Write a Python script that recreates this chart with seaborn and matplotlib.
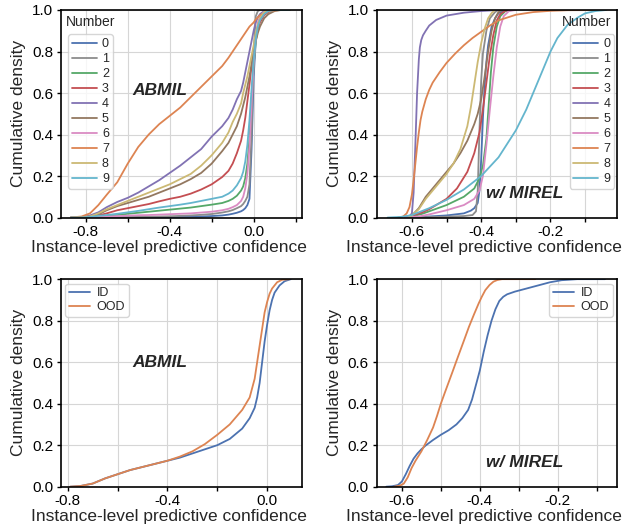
import numpy as np
import pandas as pd
import matplotlib.pyplot as plt
import seaborn as sns

# ---- top-left: ABMIL, one cumulative curve per digit (common x grid) ----
abmil_x = [-0.87, -0.82, -0.78, -0.74, -0.70, -0.65, -0.60, -0.55, -0.50, -0.45, -0.40, -0.35,
           -0.30, -0.25, -0.20, -0.15, -0.12, -0.10, -0.08, -0.06, -0.05, -0.04, -0.03, -0.02,
           -0.01, 0.00, 0.01, 0.02, 0.03, 0.05, 0.07, 0.10, 0.13, 0.17]
abmil_0 = [0, 0, 0, 0.001, 0.001, 0.001, 0.001, 0.001, 0.002, 0.002, 0.002, 0.003, 0.004, 0.005, 0.007, 0.01, 0.014,
           0.018, 0.023, 0.03, 0.036, 0.045, 0.06, 0.09, 0.33, 0.68, 0.85, 0.92, 0.96, 0.99, 0.997, 1, 1, 1]
abmil_1 = [0, 0, 0, 0, 0, 0.001, 0.002, 0.003, 0.004, 0.005, 0.006, 0.008, 0.01, 0.013, 0.017, 0.024, 0.03, 0.036,
           0.045, 0.055, 0.065, 0.08, 0.10, 0.16, 0.40, 0.80, 0.97, 0.995, 1, 1, 1, 1, 1, 1]
abmil_2 = [0, 0, 0.002, 0.005, 0.008, 0.012, 0.018, 0.023, 0.028, 0.033, 0.038, 0.043, 0.048, 0.055, 0.062, 0.07,
           0.08, 0.09, 0.105, 0.13, 0.15, 0.19, 0.26, 0.38, 0.56, 0.73, 0.85, 0.92, 0.955, 0.985, 0.995, 1, 1, 1]
abmil_3 = [0, 0, 0.003, 0.01, 0.02, 0.035, 0.045, 0.055, 0.065, 0.078, 0.09, 0.10, 0.115, 0.135, 0.16, 0.195, 0.225,
           0.26, 0.31, 0.37, 0.42, 0.48, 0.56, 0.64, 0.73, 0.81, 0.87, 0.91, 0.94, 0.975, 0.99, 1, 1, 1]
abmil_4 = [0, 0, 0.01, 0.025, 0.05, 0.075, 0.095, 0.12, 0.15, 0.18, 0.215, 0.25, 0.29, 0.33, 0.39, 0.44, 0.48, 0.52,
           0.57, 0.61, 0.65, 0.70, 0.75, 0.80, 0.85, 0.90, 0.94, 0.965, 0.98, 0.995, 1, 1, 1, 1]
abmil_5 = [0, 0, 0.005, 0.015, 0.035, 0.055, 0.07, 0.085, 0.10, 0.12, 0.14, 0.16, 0.185, 0.215, 0.26, 0.32, 0.36,
           0.40, 0.44, 0.50, 0.54, 0.58, 0.63, 0.68, 0.74, 0.80, 0.85, 0.89, 0.92, 0.96, 0.98, 0.995, 1, 1]
abmil_6 = [0, 0, 0.001, 0.003, 0.005, 0.007, 0.009, 0.011, 0.012, 0.014, 0.016, 0.018, 0.02, 0.024, 0.028, 0.035,
           0.042, 0.05, 0.06, 0.08, 0.10, 0.14, 0.21, 0.34, 0.54, 0.74, 0.87, 0.94, 0.97, 0.99, 1, 1, 1, 1]
abmil_7 = [0, 0.005, 0.02, 0.06, 0.11, 0.17, 0.26, 0.34, 0.40, 0.45, 0.49, 0.53, 0.58, 0.63, 0.68, 0.73, 0.77, 0.80,
           0.83, 0.86, 0.875, 0.89, 0.905, 0.92, 0.93, 0.94, 0.955, 0.965, 0.975, 0.985, 0.993, 0.998, 1, 1]
abmil_8 = [0, 0, 0.005, 0.02, 0.04, 0.06, 0.08, 0.10, 0.12, 0.14, 0.16, 0.185, 0.21, 0.25, 0.30, 0.36, 0.41, 0.46,
           0.50, 0.55, 0.60, 0.64, 0.68, 0.73, 0.78, 0.83, 0.89, 0.93, 0.96, 0.99, 1, 1, 1, 1]
abmil_9 = [0, 0, 0.003, 0.008, 0.012, 0.018, 0.025, 0.032, 0.04, 0.048, 0.055, 0.062, 0.07, 0.08, 0.09, 0.10, 0.115,
           0.13, 0.155, 0.19, 0.22, 0.27, 0.35, 0.47, 0.62, 0.76, 0.86, 0.92, 0.95, 0.98, 0.995, 1, 1, 1]

# ---- top-right: w/ MIREL, (x, cdf) pairs per digit ----
mirel_0 = [(-0.62, 0), (-0.55, 0.005), (-0.5, 0.01), (-0.45, 0.02), (-0.43, 0.033), (-0.42, 0.045), (-0.41, 0.07),
           (-0.405, 0.13), (-0.4, 0.28), (-0.395, 0.48), (-0.39, 0.64), (-0.385, 0.75), (-0.38, 0.83), (-0.37, 0.92),
           (-0.36, 0.96), (-0.35, 0.985), (-0.33, 0.998), (-0.3, 1)]
mirel_1 = [(-0.62, 0), (-0.55, 0.002), (-0.5, 0.004), (-0.45, 0.007), (-0.425, 0.012), (-0.415, 0.03), (-0.41, 0.13),
           (-0.405, 0.42), (-0.4, 0.66), (-0.395, 0.79), (-0.385, 0.9), (-0.375, 0.96), (-0.36, 0.99), (-0.35, 1),
           (-0.3, 1)]
mirel_2 = [(-0.62, 0), (-0.6, 0.005), (-0.57, 0.018), (-0.55, 0.03), (-0.5, 0.06), (-0.45, 0.1), (-0.42, 0.14),
           (-0.405, 0.19), (-0.395, 0.25), (-0.385, 0.38), (-0.378, 0.55), (-0.372, 0.7), (-0.365, 0.82),
           (-0.355, 0.92), (-0.345, 0.97), (-0.33, 0.995), (-0.31, 1)]
mirel_3 = [(-0.62, 0), (-0.6, 0.008), (-0.57, 0.025), (-0.55, 0.04), (-0.5, 0.09), (-0.47, 0.14), (-0.44, 0.22),
           (-0.42, 0.31), (-0.405, 0.41), (-0.395, 0.52), (-0.385, 0.65), (-0.375, 0.78), (-0.365, 0.88),
           (-0.355, 0.95), (-0.345, 0.98), (-0.33, 0.997), (-0.31, 1)]
mirel_4 = [(-0.61, 0), (-0.6, 0.02), (-0.595, 0.12), (-0.59, 0.35), (-0.585, 0.6), (-0.58, 0.76), (-0.577, 0.82),
           (-0.573, 0.855), (-0.568, 0.878), (-0.56, 0.9), (-0.55, 0.925), (-0.53, 0.952), (-0.5, 0.973),
           (-0.45, 0.987), (-0.4, 0.995), (-0.35, 1)]
mirel_5 = [(-0.61, 0), (-0.6, 0.01), (-0.58, 0.045), (-0.56, 0.10), (-0.54, 0.14), (-0.52, 0.18), (-0.5, 0.22),
           (-0.48, 0.26), (-0.46, 0.31), (-0.44, 0.37), (-0.42, 0.45), (-0.41, 0.5), (-0.4, 0.57), (-0.39, 0.68),
           (-0.38, 0.8), (-0.37, 0.9), (-0.36, 0.96), (-0.35, 0.99), (-0.34, 1)]
mirel_6 = [(-0.62, 0), (-0.58, 0.005), (-0.55, 0.015), (-0.5, 0.035), (-0.45, 0.06), (-0.42, 0.09), (-0.405, 0.13),
           (-0.395, 0.2), (-0.385, 0.35), (-0.375, 0.52), (-0.365, 0.68), (-0.355, 0.82), (-0.345, 0.92),
           (-0.335, 0.97), (-0.32, 0.995), (-0.3, 1)]
mirel_7 = [(-0.64, 0), (-0.625, 0.005), (-0.615, 0.02), (-0.607, 0.05), (-0.6, 0.11), (-0.595, 0.18), (-0.59, 0.26),
           (-0.585, 0.34), (-0.58, 0.41), (-0.575, 0.47), (-0.57, 0.51), (-0.56, 0.57), (-0.55, 0.615),
           (-0.54, 0.65), (-0.52, 0.70), (-0.5, 0.745), (-0.475, 0.79), (-0.45, 0.83), (-0.425, 0.865),
           (-0.4, 0.895), (-0.375, 0.925), (-0.35, 0.95), (-0.3, 0.977), (-0.25, 0.99), (-0.2, 0.996),
           (-0.15, 0.999), (-0.04, 1)]
mirel_8 = [(-0.61, 0), (-0.6, 0.01), (-0.58, 0.04), (-0.56, 0.09), (-0.54, 0.13), (-0.52, 0.17), (-0.5, 0.21),
           (-0.48, 0.26), (-0.46, 0.33), (-0.44, 0.44), (-0.43, 0.53), (-0.42, 0.64), (-0.41, 0.75), (-0.4, 0.84),
           (-0.39, 0.91), (-0.38, 0.96), (-0.37, 0.985), (-0.36, 1)]
mirel_9 = [(-0.67, 0), (-0.63, 0.003), (-0.6, 0.012), (-0.55, 0.045), (-0.5, 0.085), (-0.45, 0.135), (-0.4, 0.2),
           (-0.35, 0.29), (-0.3, 0.42), (-0.27, 0.52), (-0.25, 0.6), (-0.22, 0.72), (-0.2, 0.8), (-0.18, 0.865),
           (-0.15, 0.93), (-0.12, 0.965), (-0.1, 0.984), (-0.07, 0.995), (-0.04, 1)]

# ---- bottom row: ID vs OOD ----
abmil_id = [(-0.79, 0), (-0.75, 0.003), (-0.7, 0.015), (-0.65, 0.04), (-0.6, 0.06), (-0.55, 0.08), (-0.5, 0.095),
            (-0.45, 0.11), (-0.4, 0.125), (-0.35, 0.14), (-0.3, 0.16), (-0.25, 0.18), (-0.2, 0.2), (-0.15, 0.23),
            (-0.1, 0.28), (-0.07, 0.33), (-0.05, 0.38), (-0.04, 0.43), (-0.03, 0.5), (-0.02, 0.6), (-0.01, 0.7),
            (0.0, 0.78), (0.01, 0.85), (0.02, 0.9), (0.03, 0.935), (0.05, 0.97), (0.07, 0.99), (0.095, 1)]
abmil_ood = [(-0.79, 0), (-0.75, 0.003), (-0.7, 0.015), (-0.65, 0.04), (-0.6, 0.06), (-0.55, 0.08), (-0.5, 0.095),
             (-0.45, 0.11), (-0.4, 0.125), (-0.35, 0.145), (-0.3, 0.17), (-0.25, 0.205), (-0.2, 0.25), (-0.15, 0.3),
             (-0.1, 0.37), (-0.07, 0.43), (-0.05, 0.52), (-0.04, 0.6), (-0.03, 0.68), (-0.02, 0.76), (-0.01, 0.84),
             (0.0, 0.89), (0.01, 0.93), (0.02, 0.955), (0.04, 0.985), (0.06, 0.997), (0.09, 1)]
mirel_id = [(-0.64, 0), (-0.625, 0.002), (-0.61, 0.008), (-0.6, 0.025), (-0.59, 0.06), (-0.58, 0.1), (-0.57, 0.135),
            (-0.56, 0.16), (-0.55, 0.18), (-0.54, 0.197), (-0.52, 0.225), (-0.5, 0.25), (-0.48, 0.272),
            (-0.46, 0.3), (-0.445, 0.33), (-0.43, 0.37), (-0.42, 0.42), (-0.41, 0.49), (-0.4, 0.56), (-0.39, 0.65),
            (-0.38, 0.73), (-0.37, 0.8), (-0.36, 0.855), (-0.35, 0.895), (-0.34, 0.915), (-0.33, 0.927),
            (-0.31, 0.94), (-0.28, 0.955), (-0.25, 0.97), (-0.22, 0.985), (-0.19, 0.995), (-0.15, 1), (-0.079, 1)]
mirel_ood = [(-0.62, 0), (-0.605, 0.005), (-0.595, 0.015), (-0.585, 0.045), (-0.575, 0.09), (-0.565, 0.125),
             (-0.55, 0.17), (-0.535, 0.225), (-0.52, 0.285), (-0.51, 0.34), (-0.5, 0.4), (-0.49, 0.452),
             (-0.48, 0.503), (-0.47, 0.554), (-0.46, 0.606), (-0.45, 0.657), (-0.44, 0.708), (-0.428, 0.77),
             (-0.415, 0.83), (-0.403, 0.883), (-0.395, 0.915), (-0.386, 0.947), (-0.375, 0.972), (-0.365, 0.988),
             (-0.355, 0.996), (-0.343, 1), (-0.258, 1)]

numbers = [str(i) for i in range(10)]
groups = ['ID', 'OOD']

deep = sns.color_palette('deep')
num_colors = [deep[0], deep[7], deep[2], deep[3], deep[4], deep[5], deep[6], deep[1], deep[8], deep[9]]
grp_colors = [deep[0], deep[1]]


def long_pairs(series, names, col):
    frames = []
    for name, pts in zip(names, series):
        arr = np.array(pts, dtype=float)
        frames.append(pd.DataFrame({'x': arr[:, 0], 'y': arr[:, 1], col: name}))
    return pd.concat(frames, ignore_index=True)


abmil_num = [abmil_0, abmil_1, abmil_2, abmil_3, abmil_4, abmil_5, abmil_6, abmil_7, abmil_8, abmil_9]
df_tl = pd.concat([pd.DataFrame({'x': abmil_x, 'y': ys, 'Number': n}) for n, ys in zip(numbers, abmil_num)],
                  ignore_index=True)
df_tr = long_pairs([mirel_0, mirel_1, mirel_2, mirel_3, mirel_4, mirel_5, mirel_6, mirel_7, mirel_8, mirel_9],
                   numbers, 'Number')
df_bl = long_pairs([abmil_id, abmil_ood], groups, 'group')
df_br = long_pairs([mirel_id, mirel_ood], groups, 'group')

sns.set_style('whitegrid', {'axes.edgecolor': 'black', 'xtick.bottom': True, 'ytick.left': True,
                            'grid.color': '#d6d6d6'})
plt.rcParams['font.family'] = ['Liberation Sans', 'DejaVu Sans']
plt.rcParams['axes.unicode_minus'] = False

fig, axes = plt.subplots(2, 2, figsize=(6.35, 5.29), dpi=100)
fig.subplots_adjust(left=0.0961, right=0.9717, top=0.9811, bottom=0.08, wspace=0.312, hspace=0.297)

panels = [
    (axes[0, 0], df_tl, 'Number', numbers, num_colors, (-0.918, 0.228), np.arange(-0.8, 0.21, 0.2), 'ABMIL',
     (0.41, 0.61)),
    (axes[0, 1], df_tr, 'Number', numbers, num_colors, (-0.702, -0.008), np.arange(-0.6, -0.05, 0.1),
     'w/ MIREL', (0.618, 0.116)),
    (axes[1, 0], df_bl, 'group', groups, grp_colors, (-0.827, 0.138), np.arange(-0.8, 0.01, 0.2), 'ABMIL',
     (0.41, 0.6)),
    (axes[1, 1], df_br, 'group', groups, grp_colors, (-0.665, -0.048), np.arange(-0.6, -0.05, 0.1),
     'w/ MIREL', (0.618, 0.117)),
]

for ax, df, hue, order, cols, xlim, ticks, tag, tagpos in panels:
    sns.lineplot(data=df, x='x', y='y', hue=hue, hue_order=order, palette=cols, linewidth=1.3,
                 errorbar=None, estimator=None, ax=ax)
    ax.set_xlim(*xlim)
    ax.set_ylim(0, 1)
    labels = [f'{t:.1f}' if i % 2 == 0 else '' for i, t in enumerate(ticks)]
    labels = [l.replace('-0.0', '0.0') for l in labels]
    ax.set_xticks(ticks, labels)
    ax.set_yticks(np.arange(0, 1.01, 0.2), [f'{v:.1f}' for v in np.arange(0, 1.01, 0.2)])
    ax.tick_params(length=3, width=1, color='black', labelsize=11, pad=2.5, labelcolor='black')
    for s in ax.spines.values():
        s.set_linewidth(1.2)
    ax.set_xlabel('Instance-level predictive confidence', fontsize=12.5)
    ax.set_ylabel('Cumulative density', fontsize=12.5)
    ax.xaxis.set_label_coords(0.448, -0.108)
    ax.yaxis.set_label_coords(-0.145, 0.5)
    ax.text(tagpos[0], tagpos[1], tag, transform=ax.transAxes, ha='center', va='center',
            fontsize=12.5, fontweight='bold', fontstyle='italic')

leg_kw = dict(title=None, fontsize=9, labelspacing=0.24, handletextpad=0.4, handlelength=2.0,
              borderpad=0.3, frameon=True)
sns.move_legend(axes[0, 0], 'upper left', bbox_to_anchor=(0.03, 0.883), borderaxespad=0, **leg_kw)
axes[0, 0].text(0.125, 0.944, 'Number', transform=axes[0, 0].transAxes, ha='center', va='center', fontsize=10)
sns.move_legend(axes[0, 1], 'upper right', bbox_to_anchor=(0.988, 0.883), borderaxespad=0, **leg_kw)
axes[0, 1].text(0.874, 0.944, 'Number', transform=axes[0, 1].transAxes, ha='center', va='center', fontsize=10)

leg_kw2 = dict(title=None, fontsize=9, labelspacing=0.15, handletextpad=0.5, handlelength=1.7,
               borderpad=0.3, borderaxespad=0.35, frameon=True)
sns.move_legend(axes[1, 0], 'upper left', **leg_kw2)
sns.move_legend(axes[1, 1], 'upper right', **leg_kw2)

fig.savefig('out.png', dpi=100)
